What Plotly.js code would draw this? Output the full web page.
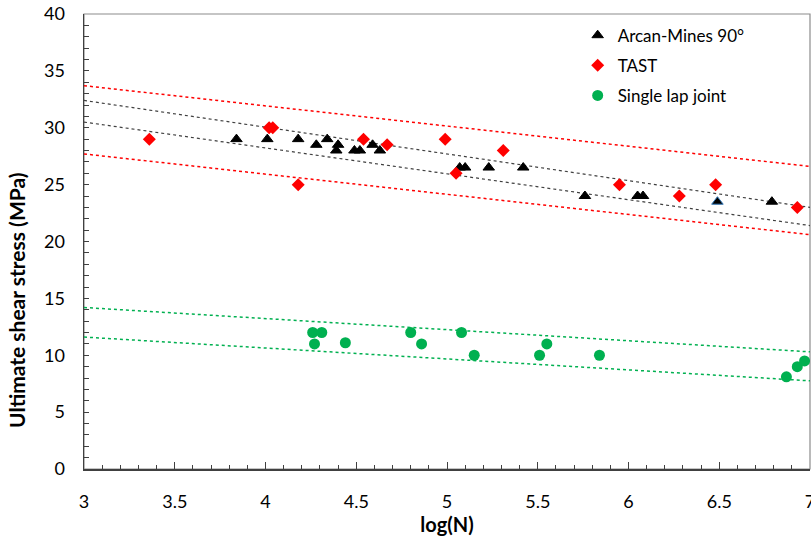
<!DOCTYPE html>
<html>
<head>
<meta charset="utf-8">
<script src="https://cdn.plot.ly/plotly-3.0.1.min.js"></script>
<style>html,body{margin:0;padding:0;background:#fff;overflow:hidden;}#chart{width:811px;height:538px;}</style>
</head>
<body>
<div id="chart"></div>
<script>
// ---- data ----
const arcanX = [3.84, 4.01, 4.18, 4.28, 4.34, 4.40, 4.39, 4.49, 4.52, 4.59, 4.63, 5.07, 5.10, 5.23, 5.42, 5.76, 6.05, 6.08, 6.49, 6.79];
const arcanY = [29, 29, 29, 28.5, 29, 28.5, 28, 28, 28, 28.5, 28, 26.5, 26.5, 26.5, 26.5, 24, 24, 24, 23.5, 23.5];

const tastX = [3.36, 4.02, 4.04, 4.18, 4.54, 4.67, 4.99, 5.05, 5.31, 5.95, 6.28, 6.48, 6.93];
const tastY = [29, 30, 30, 25, 29, 28.5, 29, 26, 28, 25, 24, 25, 23];

const lapX = [4.26, 4.31, 4.27, 4.44, 4.80, 4.86, 5.08, 5.15, 5.51, 5.55, 5.84, 6.87, 6.93, 6.97];
const lapY = [12, 12, 11, 11.1, 12, 11, 12, 10, 10, 11, 10, 8.1, 9, 9.5];

// scatter-band lines (end points)
const bandX = [3, 7];
const tastUpper = [33.7, 26.6];
const tastLower = [27.7, 20.6];
const arcanUpper = [32.4, 23.0];
const arcanLower = [30.5, 21.4];
const lapUpper = [14.2, 10.3];
const lapLower = [11.6, 7.75];

const names = ['Arcan-Mines 90°', 'TAST', 'Single lap joint'];
const xTitle = 'log(N)';
const yTitle = 'Ultimate shear stress (MPa)';

const FONT = 'Lato, "Open Sans", sans-serif';
const RED = '#ff0000', GREEN = '#00b050', BLACK = '#000000';

function band(y, color, w) {
  return {x: bandX, y: y, mode: 'lines', showlegend: false, hoverinfo: 'skip',
          line: {color: color, width: w, dash: 'dot'}};
}

const arcanLineColors = arcanX.map((x, i) => (i === 18 ? '#2e75b6' : BLACK));

const data = [
  band(tastUpper, RED, 1.5),
  band(tastLower, RED, 1.5),
  band(arcanUpper, '#404040', 1.2),
  band(arcanLower, '#404040', 1.2),
  band(lapUpper, GREEN, 1.5),
  band(lapLower, GREEN, 1.5),
  {x: arcanX, y: arcanY, mode: 'markers', name: names[0], legendgroup: 'a',
   marker: {symbol: 'triangle-up', size: 10, color: BLACK, line: {color: arcanLineColors, width: 1}}},
  {x: tastX, y: tastY, mode: 'markers', name: names[1], legendgroup: 'b',
   marker: {symbol: 'diamond', size: 10, color: RED, line: {width: 0}}},
  {x: lapX, y: lapY, mode: 'markers', name: names[2], legendgroup: 'c',
   marker: {symbol: 'circle', size: 11, color: GREEN, line: {width: 0}}}
];

const layout = {
  width: 811, height: 538,
  margin: {l: 84, r: 1, t: 14, b: 69},
  paper_bgcolor: '#ffffff', plot_bgcolor: '#ffffff',
  font: {family: FONT, size: 18, color: '#000000'},
  showlegend: true,
  legend: {x: 0.68, y: 0.992, xanchor: 'left', yanchor: 'top', bgcolor: 'rgba(0,0,0,0)',
           font: {family: FONT, size: 17, color: '#000'}, traceorder: 'grouped', tracegroupgap: 5},
  xaxis: {range: [3, 7], dtick: 0.5, tick0: 3, showgrid: false, zeroline: false,
          showline: true, linecolor: '#404040', linewidth: 1.5,
          ticks: 'inside', ticklen: 7, tickcolor: '#404040', ticklabelstandoff: 16,
          ticklabeloverflow: 'allow',
          minor: {dtick: 0.1, ticks: 'inside', ticklen: 4, tickcolor: '#404040', showgrid: false},
          tickfont: {family: FONT, size: 18, color: '#000'},
          title: {text: xTitle, font: {family: FONT, size: 20, color: '#000', weight: 'bold'}, standoff: 4}},
  yaxis: {range: [0, 40], dtick: 5, showgrid: false, zeroline: false,
          showline: true, linecolor: '#404040', linewidth: 1.5,
          ticks: 'inside', ticklen: 5, tickcolor: '#404040', ticklabelstandoff: 14,
          minor: {dtick: 1, ticks: 'inside', ticklen: 5, tickcolor: '#404040', showgrid: false},
          tickfont: {family: FONT, size: 18, color: '#000'}},
  annotations: [{text: yTitle, textangle: -90, xref: 'paper', yref: 'paper',
                 x: -0.094, y: 0.371, xanchor: 'center', yanchor: 'middle', showarrow: false,
                 font: {family: FONT, size: 21, color: '#000', weight: 'bold'}}],
  shapes: [{type: 'rect', xref: 'paper', yref: 'paper', x0: 0, x1: 1, y0: 0, y1: 1,
            line: {color: '#8c8c8c', width: 1.2}, layer: 'below'}]
};

Plotly.newPlot('chart', data, layout, {displayModeBar: false, staticPlot: true});
</script>
</body>
</html>
